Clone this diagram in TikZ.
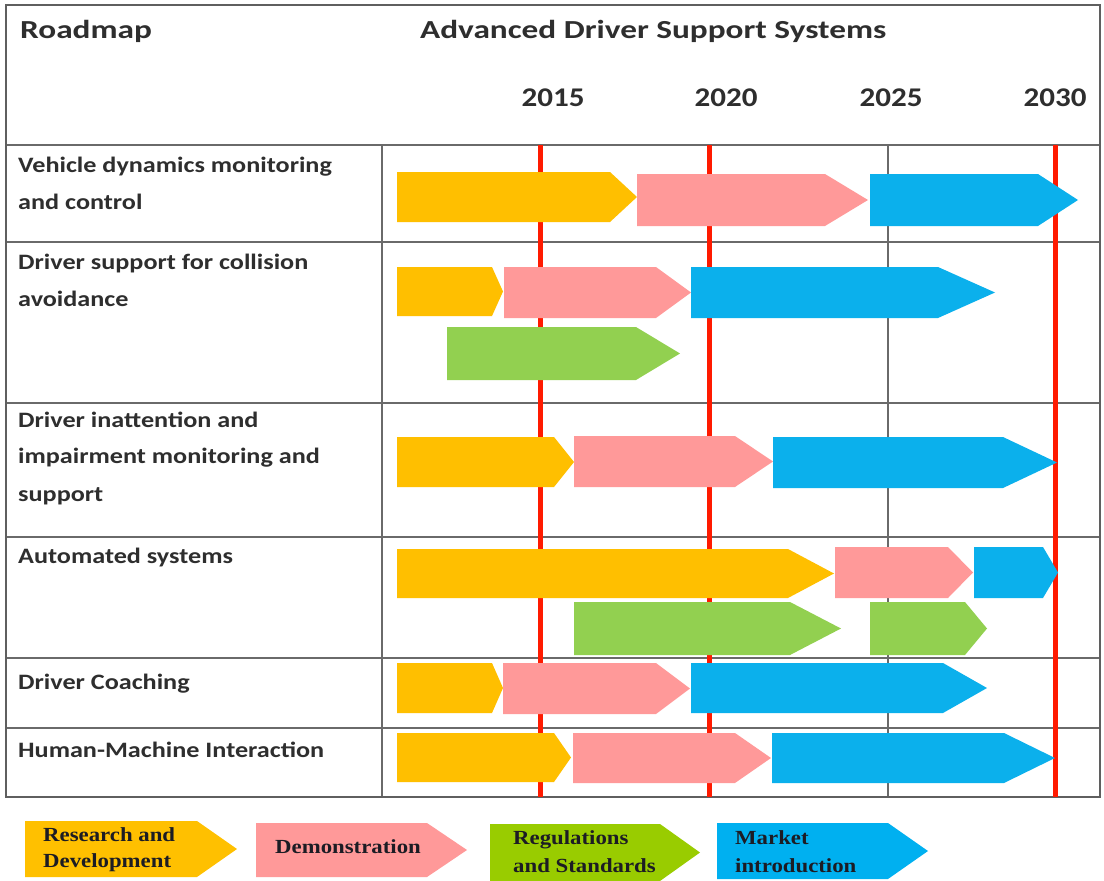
\documentclass[tikz,border=0pt]{standalone}
\usepackage{fontspec}
\setmainfont{Carlito}
\newfontfamily\hdrfont[FakeStretch=1.28]{Carlito}
\newfontfamily\yrfont[FakeStretch=1.15]{Carlito}
\newfontfamily\rowfont[FakeStretch=1.19]{Carlito}
\newfontfamily\legfont[FakeStretch=1.14]{Liberation Serif}
\definecolor{frame}{HTML}{5F5F5F}
\definecolor{grid}{HTML}{6A6A6A}
\definecolor{redline}{HTML}{FF1A00}
\definecolor{rd}{HTML}{FFBF00}
\definecolor{demo}{HTML}{FF9999}
\definecolor{mkt}{HTML}{0BB0EC}
\definecolor{reg}{HTML}{92D050}
\definecolor{legreg}{HTML}{99CC00}
\definecolor{legmkt}{HTML}{00B0F0}
\definecolor{legrd}{HTML}{FFC000}
\definecolor{txt}{HTML}{2E2E2E}
\definecolor{legtxt}{HTML}{1C1C24}
\newcommand{\chev}[6]{\fill[#1] (#2,#5) -- (#3,#5) -- (#4,{(#5+#6)/2}) -- (#3,#6) -- (#2,#6) -- cycle;}
\tikzset{
  hdr/.style={anchor=base west, inner sep=0pt, text=txt, font=\hdrfont\bfseries\fontsize{26}{30}\selectfont},
  yr/.style={anchor=base, inner sep=0pt, text=txt, font=\yrfont\bfseries\fontsize{27}{30}\selectfont},
  rowlbl/.style={anchor=base west, inner sep=0pt, text=txt, font=\rowfont\bfseries\fontsize{22}{26}\selectfont},
  leglbl/.style={anchor=base west, inner sep=0pt, text=legtxt, font=\legfont\bfseries\fontsize{20}{24}\selectfont},
  gridline/.style={draw=grid, line width=2pt},
  redv/.style={draw=redline, line width=5pt}
}
\begin{document}
\begin{tikzpicture}[x=1pt,y=-1pt]
\useasboundingbox[fill=white] (0,0) rectangle (1104,881);
% grid
\draw[gridline] (382,145) -- (382,797);
\draw[gridline] (888,145) -- (888,797);
\foreach \yy in {242,403,537,658,728} \draw[gridline] (6,\yy) -- (1100,\yy);
\draw[gridline] (6,145) -- (1100,145);
\draw[draw=frame, line width=2.5pt] (6,5) rectangle (1100,797);
% red year lines
\draw[redv] (540,145) -- (540,797);
\draw[redv] (709,145) -- (709,797);
\draw[redv] (1055,145) -- (1055,797);
% header
\node[hdr] (roadmap) at (20,38) {Roadmap};
\node[hdr] (title) at (420,38) {Advanced Driver Support Systems};
\node[yr] (y2015) at (553,106) {2015};
\node[yr] (y2020) at (726,106) {2020};
\node[yr] (y2025) at (891,106) {2025};
\node[yr] (y2030) at (1055,106) {2030};
% row labels
\node[rowlbl] (r1a) at (18,172) {Vehicle dynamics monitoring};
\node[rowlbl] (r1b) at (18,209) {and control};
\node[rowlbl] (r2a) at (18,269) {Driver support for collision};
\node[rowlbl] (r2b) at (18,306) {avoidance};
\node[rowlbl] (r3a) at (18,427) {Driver inattention and};
\node[rowlbl] (r3b) at (18,463) {impairment monitoring and};
\node[rowlbl] (r3c) at (18,501) {support};
\node[rowlbl] (r4) at (18,563) {Automated systems};
\node[rowlbl] (r5) at (18,689) {Driver Coaching};
\node[rowlbl] (r6) at (18,757) {Human-Machine Interaction};
% row 1
\chev{rd}{397}{610}{637}{172}{222}
\chev{demo}{637}{825}{868}{174}{226}
\chev{mkt}{870}{1038}{1078}{174}{226}
% row 2
\chev{rd}{397}{492}{503}{267}{316}
\chev{demo}{504}{656}{691}{267}{318}
\chev{mkt}{691}{938}{995}{267}{318}
\chev{reg}{447}{636}{680}{327}{380}
% row 3
\chev{rd}{397}{554}{574}{437}{487}
\chev{demo}{574}{735}{773}{436}{487}
\chev{mkt}{773}{1003}{1057}{437}{488}
% row 4
\chev{rd}{397}{788}{834}{549}{598}
\chev{demo}{835}{948}{973}{547}{598}
\chev{mkt}{974}{1043}{1058}{547}{598}
\chev{reg}{574}{790}{841}{602}{655}
\chev{reg}{870}{965}{987}{602}{655}
% row 5
\chev{rd}{397}{492}{503}{663}{713}
\chev{demo}{503}{656}{690}{663}{714}
\chev{mkt}{691}{943}{987}{663}{713}
% row 6
\chev{rd}{397}{554}{571}{733}{782}
\chev{demo}{573}{735}{771}{733}{783}
\chev{mkt}{772}{1004}{1055}{733}{783}
% legend
\chev{legrd}{25}{197}{237}{821}{877}
\chev{demo}{256}{427}{467}{823}{877}
\chev{legreg}{490}{660}{700}{824}{881}
\chev{legmkt}{717}{888}{928}{823}{879}
\node[leglbl] (l1a) at (43,841) {Research and};
\node[leglbl] (l1b) at (43,867) {Development};
\node[leglbl] (l2) at (275,853) {Demonstration};
\node[leglbl] (l3a) at (513,844) {Regulations};
\node[leglbl] (l3b) at (513,872) {and Standards};
\node[leglbl] (l4a) at (735,844) {Market};
\node[leglbl] (l4b) at (735,872) {introduction};
\end{tikzpicture}
\end{document}
